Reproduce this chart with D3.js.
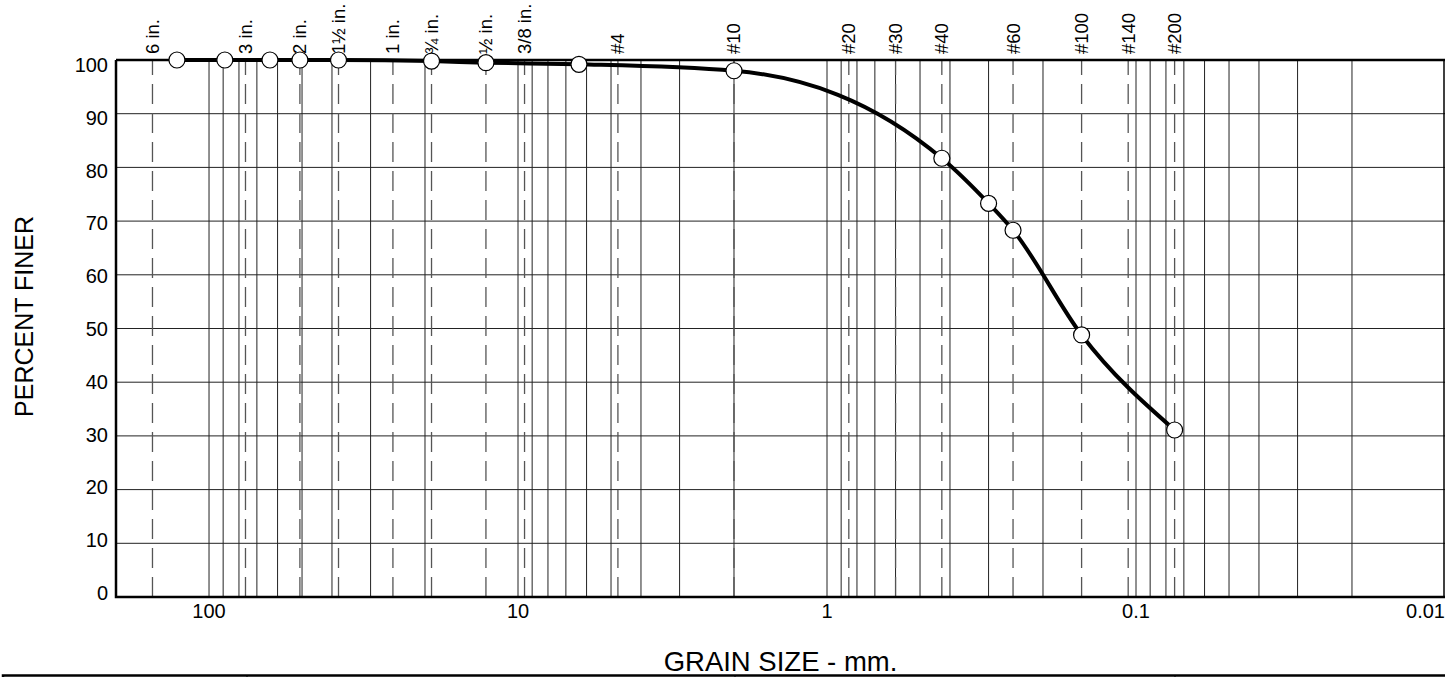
<!DOCTYPE html>
<html>
<head>
<meta charset="utf-8">
<script src="https://cdn.jsdelivr.net/npm/d3@7"></script>
<style>
  body { margin: 0; background: #fff; }
  svg { display: block; font-family: Arial, "Liberation Sans", sans-serif; }
</style>
</head>
<body>
<div id="chart"></div>
<script>
// grain size test results (mm / percent finer)
const grainSizes = [127, 88.9, 63.5, 50.8, 38.1, 19.05, 12.7, 6.35, 2.0, 0.425, 0.3, 0.25, 0.15, 0.075];
const percentFiner = [100, 100, 100, 100, 100, 99.8, 99.5, 99.2, 98.0, 81.7, 73.3, 68.3, 48.8, 31.1];

// standard sieve openings shown as dashed lines
const sieveLabels = ["6 in.", "3 in.", "2 in.", "1½ in.", "1 in.", "¾ in.", "½ in.", "3/8 in.", "#4", "#10", "#20", "#30", "#40", "#60", "#100", "#140", "#200"];
const sieveSizes = [152.4, 76.2, 50.8, 38.1, 25.4, 19.05, 12.7, 9.525, 4.75, 2.0, 0.85, 0.6, 0.425, 0.25, 0.15, 0.106, 0.075];

const xTickValues = [100, 10, 1, 0.1, 0.01];
const yTickValues = [0, 10, 20, 30, 40, 50, 60, 70, 80, 90, 100];

const W = 1445, H = 677;
const margin = { top: 60, right: 0, bottom: 80, left: 116 };
const bottom = H - margin.bottom;

const svg = d3.select("#chart").append("svg")
    .attr("width", W)
    .attr("height", H);

const x = d3.scaleLog()
    .domain([200, 0.01])
    .range([margin.left, W]);

const y = d3.scaleLinear()
    .domain([0, 100])
    .range([bottom, margin.top]);

// labels sit a bit inside the end lines
const yLab = d3.scaleLinear()
    .domain([0, 100])
    .range([bottom - 4, margin.top + 5]);

// vertical grid (1..9 per decade)
const minor = x.ticks().filter(d => d > 0.01 && d < 200);
svg.append("g")
    .selectAll("line")
    .data(minor)
    .join("line")
    .attr("x1", d => x(d)).attr("x2", d => x(d))
    .attr("y1", margin.top).attr("y2", bottom)
    .attr("stroke", "#222")
    .attr("stroke-width", 1);

// horizontal grid
svg.append("g")
    .selectAll("line")
    .data(yTickValues.filter(d => d > 0 && d < 100))
    .join("line")
    .attr("x1", margin.left).attr("x2", W)
    .attr("y1", d => y(d)).attr("y2", d => y(d))
    .attr("stroke", "#222")
    .attr("stroke-width", 1);

// sieve dashed lines
svg.append("g")
    .selectAll("line")
    .data(sieveSizes)
    .join("line")
    .attr("x1", d => x(d)).attr("x2", d => x(d))
    .attr("y1", bottom).attr("y2", margin.top)
    .attr("stroke", "#555")
    .attr("stroke-width", 1.3)
    .attr("stroke-dasharray", "20,9");

// sieve labels
svg.append("g")
    .selectAll("text")
    .data(sieveSizes)
    .join("text")
    .attr("transform", d => `translate(${x(d)},54)rotate(-90)`)
    .attr("dy", "0.35em")
    .attr("font-size", 18.5)
    .text((d, i) => sieveLabels[i]);

// frame
svg.append("path")
    .attr("d", `M${margin.left},${margin.top}H${W}M${margin.left},${margin.top}V${bottom}H${W}`)
    .attr("fill", "none")
    .attr("stroke", "#000")
    .attr("stroke-width", 2.5);
svg.append("line")
    .attr("x1", x(0.01) - 1).attr("x2", x(0.01) - 1)
    .attr("y1", margin.top).attr("y2", bottom)
    .attr("stroke", "#000").attr("stroke-width", 1.5);

// y tick labels
svg.append("g")
    .selectAll("text")
    .data(yTickValues)
    .join("text")
    .attr("x", margin.left - 8)
    .attr("y", d => yLab(d))
    .attr("dy", "0.35em")
    .attr("text-anchor", "end")
    .attr("font-size", 20)
    .text(d => d);

// x tick labels
svg.append("g")
    .selectAll("text")
    .data(xTickValues)
    .join("text")
    .attr("x", d => x(d))
    .attr("y", bottom + 21)
    .attr("text-anchor", (d, i) => i === xTickValues.length - 1 ? "end" : "middle")
    .attr("font-size", 20)
    .text(d => d);

// gradation curve
const pts = grainSizes.map((d, i) => [x(d), y(percentFiner[i])]);
pts.sort((a, b) => a[0] - b[0]);
svg.append("path")
    .attr("d", d3.line().curve(d3.curveMonotoneX)(pts))
    .attr("fill", "none")
    .attr("stroke", "#000")
    .attr("stroke-width", 4);

svg.append("g")
    .selectAll("circle")
    .data(grainSizes)
    .join("circle")
    .attr("cx", d => x(d))
    .attr("cy", (d, i) => y(percentFiner[i]))
    .attr("r", 8)
    .attr("fill", "#fff")
    .attr("stroke", "#000")
    .attr("stroke-width", 1.2);

// axis titles
svg.append("text")
    .attr("transform", `translate(33,${(margin.top + bottom) / 2 - 12})rotate(-90)`)
    .attr("text-anchor", "middle")
    .attr("font-size", 25)
    .text("PERCENT FINER");

svg.append("text")
    .attr("x", (margin.left + W) / 2)
    .attr("y", H - 6)
    .attr("text-anchor", "middle")
    .attr("font-size", 27.5)
    .text("GRAIN SIZE - mm.");

// top of the summary table below the chart
const table = svg.append("g").attr("stroke", "#000").attr("stroke-width", 2.5).attr("fill", "none");
table.append("path").attr("d", `M3,${H}V675.5H${W}`);
[247, 735, 1175].forEach(cx => {
    table.append("line").attr("x1", cx).attr("x2", cx).attr("y1", 675).attr("y2", H).attr("stroke-width", 1);
});
</script>
</body>
</html>
